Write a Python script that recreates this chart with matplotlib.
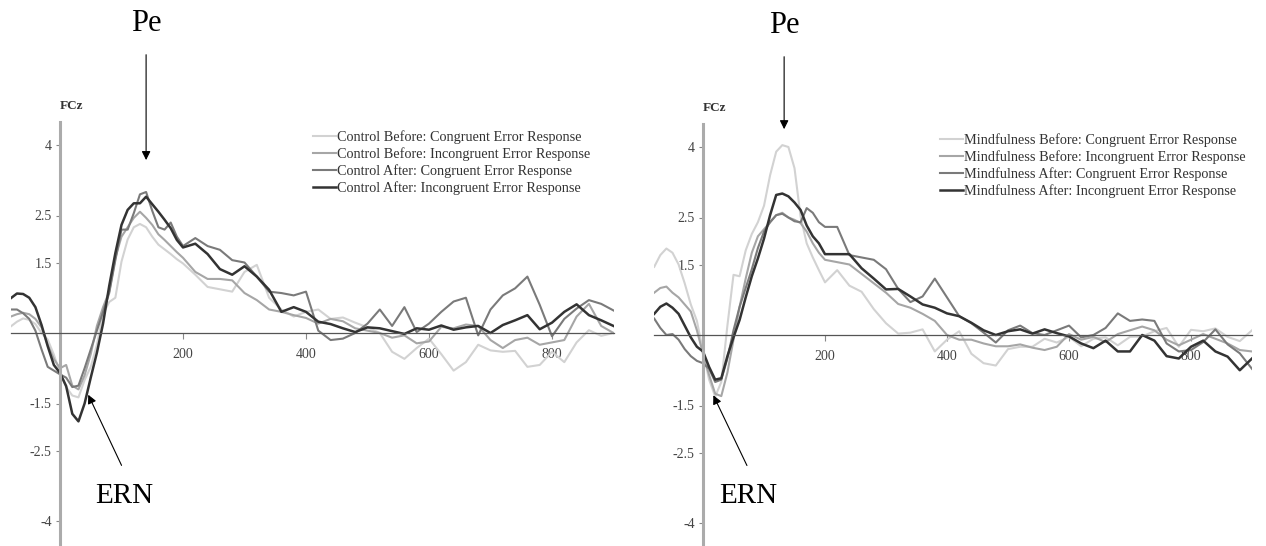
import matplotlib
matplotlib.use('Agg')
import matplotlib.pyplot as plt
from matplotlib.lines import Line2D

plt.rcParams['font.family'] = 'Liberation Serif'

# sample times in ms (10 ms steps up to 200, then 20 ms steps)
times = list(range(-80, 201, 10)) + list(range(220, 901, 20))

# Control group, FCz amplitude
control_before_cong = [0.14, 0.24, 0.31, 0.28, 0.19, 0.0, -0.14, -0.46, -0.85, -1.15, -1.33, -1.37, -1.0, -0.72, -0.25,
                       0.4, 0.66, 0.75, 1.52, 1.99, 2.25, 2.32, 2.25, 2.05, 1.88, 1.78, 1.68, 1.57, 1.48,
                       1.24, 0.98, 0.93, 0.88, 1.3, 1.45, 0.75, 0.5, 0.35, 0.45, 0.5, 0.3, 0.33, 0.22, 0.12, 0.0,
                       -0.4, -0.55, -0.32, -0.12, -0.45, -0.8, -0.62, -0.25, -0.37, -0.4, -0.38, -0.72, -0.68, -0.4,
                       -0.62, -0.2, 0.06, -0.06, 0.0]
control_before_incong = [0.35, 0.4, 0.43, 0.4, 0.3, 0.12, -0.25, -0.55, -0.75, -0.68, -1.12, -1.2, -0.9, -0.45, 0.15,
                         0.55, 0.88, 1.6, 2.05, 2.25, 2.45, 2.58, 2.45, 2.3, 2.1, 1.98, 1.85, 1.72, 1.6,
                         1.3, 1.15, 1.15, 1.12, 0.85, 0.7, 0.5, 0.45, 0.38, 0.32, 0.2, 0.3, 0.25, 0.1, 0.05, 0.0,
                         -0.1, -0.05, -0.22, -0.18, 0.13, 0.1, 0.18, 0.15, -0.15, -0.32, -0.15, -0.1, -0.25, -0.2,
                         -0.15, 0.35, 0.62, 0.15, 0.0]
control_after_cong = [0.5, 0.5, 0.42, 0.3, 0.05, -0.35, -0.72, -0.8, -0.88, -0.95, -1.15, -1.12, -0.75, -0.35, 0.05,
                      0.45, 0.85, 1.55, 2.2, 2.2, 2.55, 2.95, 3.0, 2.6, 2.25, 2.2, 2.35, 2.05, 1.85,
                      2.02, 1.85, 1.77, 1.55, 1.5, 1.2, 0.88, 0.85, 0.8, 0.88, 0.05, -0.15, -0.12, 0.0, 0.2, 0.5,
                      0.15, 0.55, 0.02, 0.2, 0.45, 0.67, 0.75, -0.05, 0.5, 0.8, 0.95, 1.2, 0.6, -0.07,
                      0.3, 0.52, 0.7, 0.62, 0.48]
control_after_incong = [0.74, 0.84, 0.83, 0.75, 0.55, 0.17, -0.28, -0.68, -0.85, -1.13, -1.72, -1.88, -1.5, -0.95, -0.42,
                        0.2, 1.0, 1.7, 2.3, 2.62, 2.76, 2.76, 2.9, 2.74, 2.58, 2.41, 2.23, 1.98, 1.82,
                        1.9, 1.68, 1.36, 1.24, 1.42, 1.2, 0.92, 0.45, 0.55, 0.45, 0.24, 0.19, 0.1, 0.02, 0.12, 0.1,
                        0.04, -0.02, 0.1, 0.07, 0.16, 0.07, 0.12, 0.15, 0.0, 0.17, 0.27, 0.38, 0.08, 0.22,
                        0.45, 0.61, 0.38, 0.27, 0.15]

# Mindfulness group
mind_before_cong = [1.45, 1.7, 1.84, 1.75, 1.5, 1.1, 0.65, 0.3, -0.35, -0.95, -1.31, -1.0, 0.2, 1.28, 1.25,
                    1.8, 2.15, 2.4, 2.75, 3.4, 3.9, 4.04, 4.0, 3.55, 2.52, 1.95, 1.65, 1.38, 1.12,
                    1.38, 1.05, 0.92, 0.55, 0.25, 0.03, 0.05, 0.12, -0.35, -0.1, 0.08, -0.4, -0.6, -0.65, -0.3, -0.25,
                    -0.25, -0.08, -0.16, -0.04, -0.24, -0.08, -0.05, -0.22, -0.04, -0.03, 0.08, 0.15, -0.25, 0.11,
                    0.08, 0.14, -0.04, -0.13, 0.1]
mind_before_incong = [0.9, 1.0, 1.03, 0.9, 0.8, 0.65, 0.5, 0.1, -0.4, -0.85, -1.25, -1.3, -0.8, -0.1, 0.6,
                      1.2, 1.75, 2.1, 2.25, 2.4, 2.55, 2.6, 2.5, 2.45, 2.38, 2.2, 1.95, 1.75, 1.6,
                      1.55, 1.5, 1.3, 1.1, 0.9, 0.66, 0.58, 0.45, 0.3, 0.0, -0.1, -0.1, -0.18, -0.24, -0.24, -0.2,
                      -0.27, -0.32, -0.25, 0.02, -0.1, -0.04, -0.15, 0.02, 0.1, 0.18, 0.1, -0.1, -0.22, -0.1,
                      0.02, -0.08, -0.18, -0.32, -0.35]
mind_after_cong = [0.35, 0.15, 0.0, 0.02, -0.1, -0.3, -0.45, -0.55, -0.6, -0.72, -1.0, -0.95, -0.5, 0.1, 0.6,
                   1.0, 1.4, 1.85, 2.2, 2.4, 2.55, 2.58, 2.5, 2.42, 2.4, 2.7, 2.6, 2.4, 2.3,
                   2.3, 1.7, 1.65, 1.6, 1.4, 0.98, 0.7, 0.82, 1.2, 0.8, 0.4, 0.25, 0.05, -0.16, 0.1, 0.2,
                   0.04, 0.0, 0.1, 0.2, -0.05, 0.0, 0.15, 0.46, 0.3, 0.33, 0.3, -0.18, -0.35, -0.32,
                   -0.15, 0.12, -0.2, -0.39, -0.72]
mind_after_incong = [0.45, 0.6, 0.67, 0.58, 0.45, 0.2, -0.05, -0.25, -0.35, -0.68, -0.95, -0.92, -0.45, -0.05, 0.32,
                     0.8, 1.25, 1.63, 2.05, 2.55, 2.98, 3.01, 2.95, 2.82, 2.66, 2.33, 2.1, 1.95, 1.72,
                     1.72, 1.72, 1.42, 1.2, 0.97, 0.98, 0.82, 0.65, 0.58, 0.46, 0.4, 0.26, 0.1, 0.0, 0.08, 0.12,
                     0.03, 0.12, 0.04, -0.03, -0.18, -0.28, -0.12, -0.35, -0.35, 0.0, -0.12, -0.45, -0.5, -0.25,
                     -0.12, -0.35, -0.46, -0.75, -0.5]

control_labels = ['Control Before: Congruent Error Response', 'Control Before: Incongruent Error Response',
                  'Control After: Congruent Error Response', 'Control After: Incongruent Error Response']
mind_labels = ['Mindfulness Before: Congruent Error Response', 'Mindfulness Before: Incongruent Error Response',
               'Mindfulness After: Congruent Error Response', 'Mindfulness After: Incongruent Error Response']

ytick_vals = [4, 2.5, 1.5, -1.5, -2.5, -4]
ytick_labels = ['4', '2.5', '1.5', '-1.5', '-2.5', '-4']
xtick_vals = [200, 400, 600, 800]
xtick_labels = ['200', '400', '600', '800']

colors = ['#d2d2d2', '#a6a6a6', '#7a7a7a', '#333333']
widths = [1.5, 1.5, 1.5, 1.8]

W, H = 1266, 546
fig = plt.figure(figsize=(W / 100, H / 100), dpi=100)


def panel(zero_x, zero_y, ms_px, series, labels, leg_pos, pe_tip, ern_tip, ern_tail, ern_txt):
    # axes placed so that the zero lines land at the same pixels as the reference
    x0 = zero_x - 80 * ms_px
    x1 = zero_x + 900 * ms_px
    top = zero_y - 4.5 * 47
    bot = zero_y + 4.5 * 47
    ax = fig.add_axes([x0 / W, 1 - bot / H, (x1 - x0) / W, (bot - top) / H])
    ax.set_xlim(-80, 900)
    ax.set_ylim(-4.5, 4.5)

    for s, c, lw in zip(series, colors, widths):
        ax.plot(times, s, color=c, lw=lw, solid_joinstyle='round')

    ax.spines['top'].set_visible(False)
    ax.spines['right'].set_visible(False)
    ax.spines['left'].set_position(('data', 0))
    ax.spines['bottom'].set_position(('data', 0))
    ax.spines['left'].set_color('#ababab')
    ax.spines['left'].set_linewidth(2.2)
    ax.spines['bottom'].set_color('#555555')
    ax.spines['bottom'].set_linewidth(0.9)

    ax.set_yticks(ytick_vals)
    ax.set_yticklabels(ytick_labels)
    ax.set_xticks(xtick_vals)
    ax.set_xticklabels(xtick_labels)
    ax.tick_params(axis='y', direction='out', length=3, width=0.8, color='#888888',
                   labelsize=10, labelcolor='#444444', pad=3)
    ax.tick_params(axis='x', direction='out', length=4, width=0.8, color='#888888',
                   labelsize=10, labelcolor='#444444', pad=7)
    ax.patch.set_alpha(0)

    ax.text(0, 4.82, 'FCz', fontsize=9.5, fontweight='bold', color='#333333',
            ha='left', va='center', clip_on=False)

    # Pe and ERN markers
    ax.text(pe_tip[0], 6.58, 'Pe', fontsize=22, ha='center', va='center', clip_on=False)
    ax.annotate('', xy=pe_tip, xytext=(pe_tip[0], 5.98), annotation_clip=False,
                arrowprops=dict(arrowstyle='-|>', color='black', lw=0.8, mutation_scale=13))
    ax.text(ern_txt[0], ern_txt[1], 'ERN', fontsize=21, ha='center', va='center', clip_on=False)
    ax.annotate('', xy=ern_tip, xytext=ern_tail, annotation_clip=False,
                arrowprops=dict(arrowstyle='-|>', color='black', lw=0.8, mutation_scale=13))

    handles = [Line2D([0], [0], color=c, lw=lw) for c, lw in zip(colors, widths)]
    leg = ax.legend(handles, labels, loc='upper left', bbox_to_anchor=(leg_pos[0] / W, 1 - leg_pos[1] / H),
                    bbox_transform=fig.transFigure, frameon=False, fontsize=10.3, handlelength=1.6,
                    handletextpad=0.1, labelspacing=0.22, borderpad=0, borderaxespad=0)
    for t in leg.get_texts():
        t.set_color('#333333')
    return ax


panel(60, 333, 0.615,
      [control_before_cong, control_before_incong, control_after_cong, control_after_incong],
      control_labels, (313, 130), (140, 3.62), (44, -1.26), (102, -2.87), (104, -3.47))
panel(703, 335, 0.61,
      [mind_before_cong, mind_before_incong, mind_after_cong, mind_after_incong],
      mind_labels, (940, 133), (133, 4.32), (15, -1.23), (74, -2.83), (74, -3.43))

plt.savefig('out.png', dpi=100)
